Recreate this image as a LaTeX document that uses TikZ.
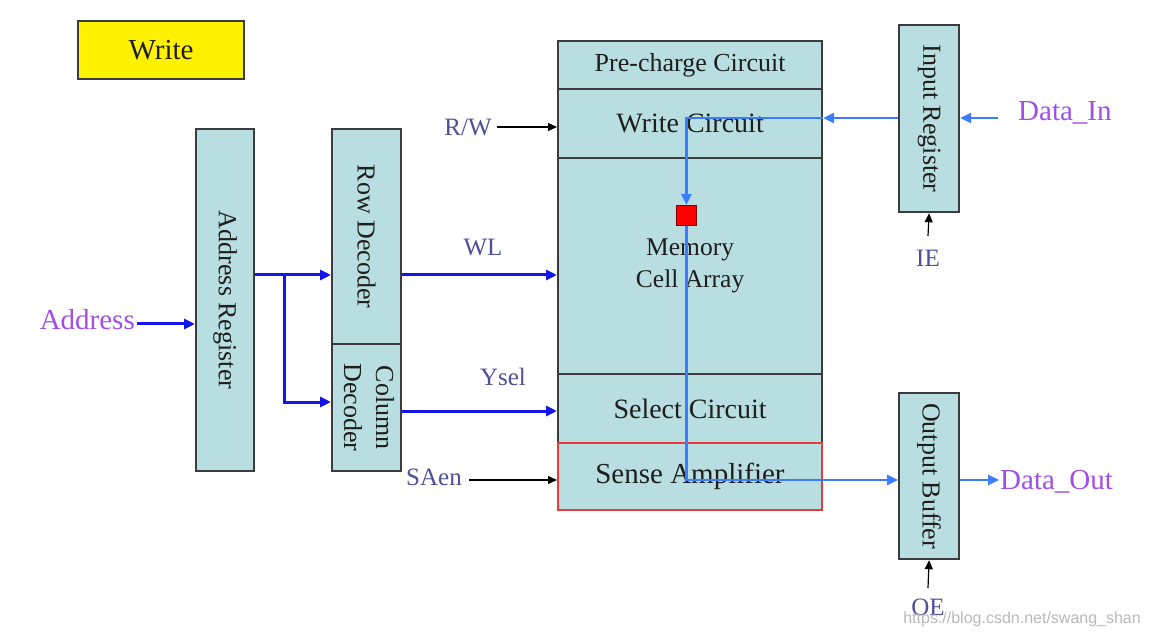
\documentclass[tikz,border=0pt]{standalone}
\usepackage{fontspec}
\setmainfont{Liberation Serif}
\newfontfamily\wmfont{Liberation Sans}
\usetikzlibrary{arrows.meta}
\definecolor{boxfill}{RGB}{184,222,226}
\definecolor{boxline}{RGB}{60,60,60}
\definecolor{addrblue}{RGB}{20,20,235}
\definecolor{datablue}{RGB}{60,125,255}
\definecolor{lblpurple}{RGB}{160,80,230}
\definecolor{lblslate}{RGB}{80,80,150}
\definecolor{sared}{RGB}{230,60,60}
\definecolor{wmgrey}{RGB}{185,185,185}
\definecolor{txtdark}{RGB}{30,30,30}
\newcommand\fsz[2]{\fontsize{#1}{#2}\selectfont}
\tikzset{
  blk/.style={draw=boxline, fill=boxfill, line width=2.2pt, inner sep=0pt, anchor=north west, text=txtdark},
  sect/.style={blk, minimum width=264pt},
  purplelbl/.style={text=lblpurple, inner sep=0pt, font=\fsz{29}{34}},
  slatelbl/.style={text=lblslate, inner sep=0pt, font=\fsz{25}{30}},
  abus/.style={draw=addrblue, line width=3pt, -{Triangle[length=11pt,width=10pt]}},
  dbus/.style={draw=datablue, line width=2.6pt, -{Triangle[length=11pt,width=10pt]}},
  thinarr/.style={draw=black, line width=1.2pt, -{Triangle[length=9pt,width=8pt]}},
}
\begin{document}
\begin{tikzpicture}[x=1pt,y=-1pt]
\useasboundingbox[fill=white] (0,0) rectangle (1149,636);

% Write box
\node[blk, fill=yellow, minimum width=166pt, minimum height=58pt] (write) at (77,20) {};
\node[text=txtdark, font=\fsz{29}{34}] (writetxt) at (write.center) {Write};

% Address register, decoders
\node[blk, minimum width=58pt, minimum height=342pt] (ar) at (195,128) {};
\node[text=txtdark, font=\fsz{26}{30}, inner sep=0pt] (artxt) at (ar.center) {\rotatebox{-90}{Address Register}};
\node[blk, minimum width=69pt, minimum height=215pt] (rd) at (331,128) {};
\node[text=txtdark, font=\fsz{26}{30}, inner sep=0pt] (rdtxt) at (rd.center) {\rotatebox{-90}{Row Decoder}};
\node[blk, minimum width=69pt, minimum height=127pt] (cd) at (331,343) {};
\node[text=txtdark, font=\fsz{26}{32}, inner sep=0pt] (cdtxt) at (cd.center) {\rotatebox{-90}{\begin{tabular}{@{}c@{}}Column\\Decoder\end{tabular}}};

% Main block
\node[sect, minimum height=48pt] (pc) at (557,40) {};
\node[text=txtdark, font=\fsz{26}{30}] (pctxt) at (pc.center) {Pre-charge Circuit};
\node[sect, minimum height=69pt] (wc) at (557,88) {};
\node[text=txtdark, font=\fsz{28}{32}] (wctxt) at (wc.center) {Write Circuit};
\node[sect, minimum height=216pt] (mca) at (557,157) {};
\node[text=txtdark, font=\fsz{25.5}{32}, align=center] (mcatxt) at (mca.center) {Memory\\Cell Array};
\node[sect, minimum height=69pt] (sc) at (557,373) {};
\node[text=txtdark, font=\fsz{28}{32}] (sctxt) at (sc.center) {Select Circuit};
\node[sect, draw=sared, line width=2pt, minimum height=67pt] (sa) at (557,442) {};
\node[text=txtdark, font=\fsz{29}{34}] (satxt) at (sa.center) {Sense Amplifier};
\node[draw=red!50!black, line width=0.8pt, fill=red, minimum width=20pt, minimum height=20pt, inner sep=0pt, anchor=north west] (cell) at (676,205) {};

% Input register / output buffer
\node[blk, minimum width=60pt, minimum height=187pt] (ir) at (898,24) {};
\node[text=txtdark, font=\fsz{26}{30}, inner sep=0pt] (irtxt) at (ir.center) {\rotatebox{-90}{Input Register}};
\node[blk, minimum width=60pt, minimum height=166pt] (ob) at (898,392) {};
\node[text=txtdark, font=\fsz{26}{30}, inner sep=0pt] (obtxt) at (ob.center) {\rotatebox{-90}{Output Buffer}};

% Labels
\node[purplelbl, anchor=east] (addr) at (135,320) {Address};
\node[purplelbl, anchor=west] (din) at (1018,113) {Data\_In};
\node[purplelbl, anchor=west] (dout) at (1000,482) {Data\_Out};
\node[slatelbl] (rw) at (468,127) {R/W};
\node[slatelbl] (wl) at (483,248) {WL};
\node[slatelbl] (ysel) at (503,377) {Ysel};
\node[slatelbl] (saen) at (434,477) {SAen};
\node[slatelbl] (ie) at (928,258) {IE};
\node[slatelbl] (oe) at (928,607) {OE};

% Helper coordinates
\coordinate (yA) at (0,324);
\coordinate (yR) at (0,275);
\coordinate (yC) at (0,402);
\coordinate (yS) at (0,411);
\coordinate (xB) at (284,0);
\coordinate (yD) at (0,118);
\coordinate (yO) at (0,480);
\coordinate (addrS) at (137,324);
\coordinate (rwS) at (497,127);
\coordinate (saS) at (469,480);
\coordinate (dinS) at (998,118);
\coordinate (doutE) at (999,480);
\coordinate (ieS) at (928,236);
\coordinate (oeS) at (928,588);

% Address connectors
\draw[abus] (addrS) -- (ar.west |- yA);
\draw[abus] (ar.east |- yR) -- (rd.west |- yR);
\draw[abus] (xB |- yR) -- (xB |- yC) -- (cd.west |- yC);
\draw[abus] (rd.east |- yR) -- (mca.west |- yR);
\draw[abus] (cd.east |- yS) -- (sc.west |- yS);

% Control
\draw[thinarr] (rwS) -- (wc.west |- rwS);
\draw[thinarr] (saS) -- (sa.west |- saS);
\draw[thinarr] (ieS) -- (ir.south);
\draw[thinarr] (oeS) -- (ob.south);

% Data path
\draw[dbus] (dinS) -- (ir.east |- yD);
\draw[dbus] (ir.west |- yD) -- (wc.east |- yD);
\draw[dbus] (wc.east |- yD) -- (cell.north |- yD) -- (cell.north);
\draw[dbus] (cell.south) -- (cell.south |- yO) -- (ob.west |- yO);
\draw[dbus] (ob.east |- yO) -- (doutE);

% Watermark
\node[text=wmgrey, font=\wmfont\fsz{16}{19}, anchor=east, inner sep=0pt] (wm) at (1141,619) {https://blog.csdn.net/swang\_shan};
\end{tikzpicture}
\end{document}
